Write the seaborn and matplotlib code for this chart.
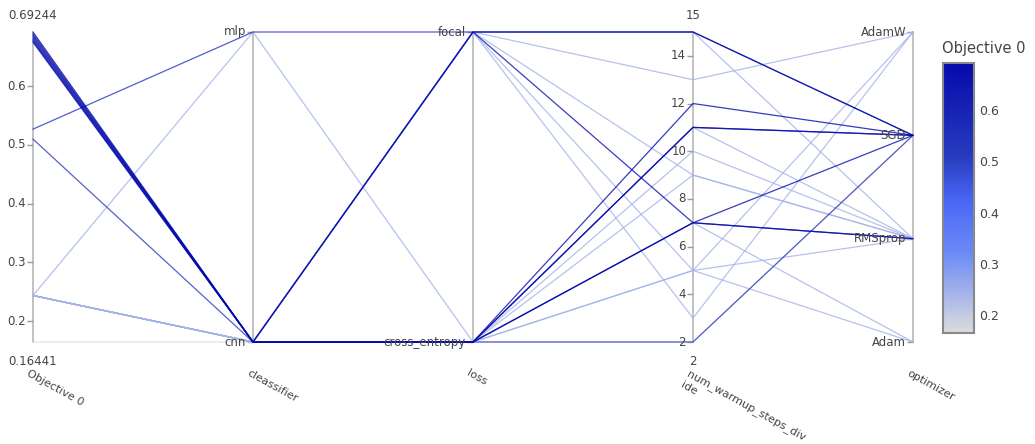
import matplotlib
matplotlib.use('Agg')
import matplotlib.pyplot as plt
import seaborn as sns
import pandas as pd
import numpy as np
from matplotlib.colors import LinearSegmentedColormap, Normalize
from matplotlib.cm import ScalarMappable

# trials
objective = [0.69244, 0.6890, 0.6860, 0.6830, 0.6800, 0.6775, 0.6750,
             0.527, 0.510,
             0.2436, 0.2436, 0.2436, 0.2436, 0.2436, 0.2436, 0.2436,
             0.2436, 0.2436, 0.2436, 0.2436, 0.16441]
classifier = ['cnn', 'cnn', 'cnn', 'cnn', 'cnn', 'cnn', 'cnn',
              'mlp', 'cnn',
              'mlp', 'cnn', 'cnn', 'cnn', 'cnn', 'cnn', 'cnn',
              'cnn', 'cnn', 'cnn', 'cnn', 'cnn']
loss = ['focal', 'cross_entropy', 'cross_entropy', 'cross_entropy',
        'cross_entropy', 'cross_entropy', 'focal',
        'focal', 'cross_entropy',
        'cross_entropy', 'cross_entropy', 'focal', 'focal', 'focal',
        'focal', 'cross_entropy', 'cross_entropy', 'focal',
        'cross_entropy', 'cross_entropy', 'cross_entropy']
warmup = [15, 12, 11, 7, 11, 7, 7,
          15, 2,
          9, 10, 13, 9, 5, 3, 5, 11, 15, 7, 5, 2]
optimizer = ['SGD', 'SGD', 'SGD', 'SGD', 'SGD', 'RMSprop', 'RMSprop',
             'SGD', 'SGD',
             'RMSprop', 'RMSprop', 'AdamW', 'RMSprop', 'Adam', 'AdamW',
             'AdamW', 'RMSprop', 'RMSprop', 'Adam', 'RMSprop', 'SGD']

# axis titles, one list per wrapped line
dim_names = [['Objective 0'], ['cleassifier'], ['loss'],
             ['num_warmup_steps_div', 'ide'], ['optimizer']]
classifier_levels = ['cnn', 'mlp']
loss_levels = ['cross_entropy', 'focal']
optimizer_levels = ['Adam', 'RMSprop', 'SGD', 'AdamW']
obj_ticks = [0.2, 0.3, 0.4, 0.5, 0.6]
warmup_ticks = [2, 4, 6, 8, 10, 12, 14]

OBJ_MIN, OBJ_MAX = min(objective), max(objective)
W_MIN, W_MAX = min(warmup), max(warmup)
TEXT = '#444444'

# plotly "Blues" (reversed) colour scale
cmap = LinearSegmentedColormap.from_list('plotly_blues', [
    (0.0, (220/255, 220/255, 220/255)),
    (0.3, (106/255, 137/255, 247/255)),
    (0.4, (90/255, 120/255, 245/255)),
    (0.5, (70/255, 100/255, 245/255)),
    (0.65, (40/255, 60/255, 190/255)),
    (1.0, (5/255, 10/255, 172/255)),
])
norm = Normalize(OBJ_MIN, OBJ_MAX)


def n_obj(v):
    return (v - OBJ_MIN) / (OBJ_MAX - OBJ_MIN)


def n_warm(v):
    return (v - W_MIN) / (W_MAX - W_MIN)


def n_cat(v, levels):
    return levels.index(v) / (len(levels) - 1)


rows = []
for i in range(len(objective)):
    ys = [n_obj(objective[i]),
          n_cat(classifier[i], classifier_levels),
          n_cat(loss[i], loss_levels),
          n_warm(warmup[i]),
          n_cat(optimizer[i], optimizer_levels)]
    for j, y in enumerate(ys):
        rows.append({'trial': i, 'pos': j, 'y': y,
                     'objective': objective[i]})
df = pd.DataFrame(rows)

sns.set_theme(style="white")
plt.rcParams['font.family'] = ['DejaVu Sans']

fig = plt.figure(figsize=(10.35, 4.44), dpi=100)
ax = fig.add_axes([33/1035, 1 - 342/444, 880/1035, 310/444])

for j in range(5):
    ax.plot([j, j], [0, 1], color='#bdbdbd', lw=1.3, zorder=0,
            clip_on=False)

sns.lineplot(data=df, x='pos', y='y', units='trial', estimator=None,
             hue='objective', palette=cmap, hue_norm=norm, sort=False,
             legend=False, linewidth=0.9, alpha=0.8, ax=ax)
for ln in ax.lines:
    ln.set_clip_on(False)

ax.set_xlim(0, 4)
ax.set_ylim(0, 1)
ax.axis('off')


def tick(j, y, label):
    ax.plot([j], [y], marker=0, markersize=4, color='#9a9a9a',
            clip_on=False, zorder=1)
    ax.annotate(label, (j, y), xytext=(-5, 0), textcoords='offset points',
                ha='right', va='center', fontsize=8.5, color=TEXT)


for t in obj_ticks:
    tick(0, n_obj(t), f'{t:.1f}')
for lv in classifier_levels:
    tick(1, n_cat(lv, classifier_levels), lv)
for lv in loss_levels:
    tick(2, n_cat(lv, loss_levels), lv)
for t in warmup_ticks:
    tick(3, n_warm(t), str(t))
for lv in optimizer_levels:
    tick(4, n_cat(lv, optimizer_levels), lv)

# range labels above / below the numeric axes
for j, top, bot in [(0, f'{OBJ_MAX:.5f}', f'{OBJ_MIN:.5f}'),
                    (3, str(W_MAX), str(W_MIN))]:
    ax.annotate(top, (j, 1), xytext=(0, 7), textcoords='offset points',
                ha='center', va='bottom', fontsize=8.5, color=TEXT)
    ax.annotate(bot, (j, 0), xytext=(0, -9), textcoords='offset points',
                ha='center', va='top', fontsize=8.5, color=TEXT)

# rotated axis titles, wrapped lines placed one below the other
ang = np.deg2rad(29)
line_h = 9.5
for j, lines in enumerate(dim_names):
    for k, text in enumerate(lines):
        dx = -2 - k * line_h * np.sin(ang)
        dy = -19 - k * line_h * np.cos(ang)
        ax.annotate(text, (j, 0), xytext=(dx, dy),
                    textcoords='offset points', ha='left', va='top',
                    rotation=-29, rotation_mode='anchor',
                    fontsize=8, color=TEXT)

# colour bar
cax = fig.add_axes([943/1035, 1 - 333/444, 31/1035, 270/444])
cb = fig.colorbar(ScalarMappable(norm=norm, cmap=cmap), cax=cax)
cb.set_ticks(obj_ticks)
cb.ax.tick_params(length=0, labelsize=9, labelcolor=TEXT, pad=4)
cb.outline.set_edgecolor('#888888')
cb.outline.set_linewidth(1.5)
fig.text(942/1035, 1 - 48/444, 'Objective 0', fontsize=10.5, color=TEXT,
         ha='left', va='center')

fig.savefig('out.png', dpi=100)
